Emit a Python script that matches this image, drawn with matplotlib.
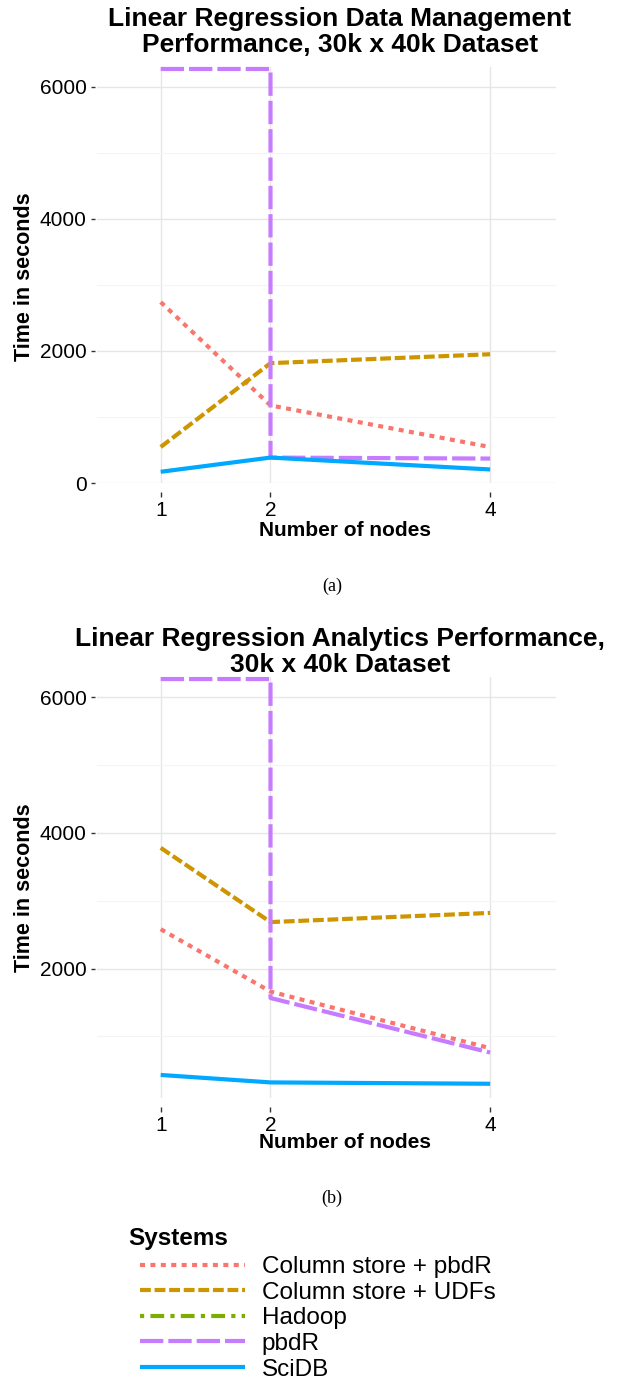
import numpy as np
import matplotlib
matplotlib.use("Agg")
import matplotlib.pyplot as plt

plt.rcParams['font.family'] = ['Liberation Sans', 'DejaVu Sans']

# Data (time in seconds)
nodes = [1, 2, 4]
pbdr_nodes = [1, 2, 2, 4]          # pbdR line drops vertically at 2 nodes

mgmt_colstore_pbdr = [2740, 1175, 545]
mgmt_colstore_udf = [545, 1815, 1950]
mgmt_pbdr = [6270, 6270, 385, 370]
mgmt_scidb = [170, 385, 205]

anl_colstore_pbdr = [2580, 1660, 825]
anl_colstore_udf = [3780, 2685, 2820]
anl_pbdr = [6270, 6270, 1565, 760]
anl_scidb = [430, 320, 300]

systems = ["Column store + pbdR", "Column store + UDFs", "Hadoop", "pbdR", "SciDB"]
colors = ["#F8766D", "#CD9600", "#7CAE00", "#C77CFF", "#00A9FF"]
dashes = [(1.2, 1.3), (2.6, 0.9), (1.0, 1.5, 3.3, 1.5), (5.6, 1.2), None]

W, H = 619, 1382
fig = plt.figure(figsize=(W / 100, H / 100), dpi=100)


def px_box(left, top, right, bottom):
    return [left / W, 1 - bottom / H, (right - left) / W, (bottom - top) / H]


def draw_panel(ax, series, ylim):
    handles = []
    for i, (xs, ys) in enumerate(series):
        kw = dict(color=colors[i], lw=3.0, clip_on=False, solid_capstyle='butt',
                  dash_capstyle='butt', label=systems[i])
        if dashes[i] is not None:
            kw['dashes'] = dashes[i]
        h, = ax.plot(xs, ys, **kw)
        handles.append(h)
    ax.set_xlim(0.42, 4.6)
    ax.set_xticks(nodes)
    ax.set_xticklabels([str(n) for n in nodes])
    ax.set_yticks([0, 2000, 4000, 6000])
    ax.set_yticks([1000, 3000, 5000], minor=True)
    ax.set_ylim(*ylim)
    ax.grid(True, which='major', color='#E6E6E6', lw=1.0)
    ax.grid(True, which='minor', axis='y', color='#F4F4F4', lw=0.8)
    ax.set_axisbelow(True)
    ax.spines['bottom'].set_position(('outward', 6.5))
    ax.spines['left'].set_position(('outward', 1.5))
    for s in ax.spines.values():
        s.set_visible(False)
    ax.tick_params(axis='x', which='major', length=3.8, width=1.0, color='#333333',
                   pad=2.5, labelsize=15, labelcolor='black')
    ax.tick_params(axis='y', which='major', length=3.0, width=1.0, color='#333333',
                   pad=3, labelsize=15, labelcolor='black')
    ax.tick_params(axis='y', which='minor', length=0)
    return handles


ax1 = fig.add_axes(px_box(97, 67, 556, 483))
h1 = draw_panel(ax1, [(nodes, mgmt_colstore_pbdr), (nodes, mgmt_colstore_udf), ([], []),
                      (pbdr_nodes, mgmt_pbdr), (nodes, mgmt_scidb)], (0, 6300))

ax2 = fig.add_axes(px_box(97, 677, 556, 1098))
draw_panel(ax2, [(nodes, anl_colstore_pbdr), (nodes, anl_colstore_udf), ([], []),
                 (pbdr_nodes, anl_pbdr), (nodes, anl_scidb)], (90, 6300))

# titles, axis labels and captions
fig.text(340 / W, 1 - 32 / H, "Linear Regression Data Management\nPerformance, 30k x 40k Dataset",
         ha='center', va='center', fontsize=19, fontweight='bold', linespacing=1.15)
fig.text(340 / W, 1 - 652 / H, "Linear Regression Analytics Performance,\n30k x 40k Dataset",
         ha='center', va='center', fontsize=19, fontweight='bold', linespacing=1.12)

for yc in [530, 1142]:
    fig.text(345 / W, 1 - yc / H, "Number of nodes", ha='center', va='center',
             fontsize=15, fontweight='bold')
for yc in [277, 888]:
    fig.text(25 / W, 1 - yc / H, "Time in seconds", ha='center', va='center',
             rotation=90, fontsize=15.5, fontweight='bold')

fig.text(332 / W, 1 - 586 / H, "(a)", ha='center', va='center', fontsize=13,
         family='Liberation Serif')
fig.text(332 / W, 1 - 1198 / H, "(b)", ha='center', va='center', fontsize=13,
         family='Liberation Serif')

# legend
fig.text(128 / W, 1 - 1238 / H, "Systems", ha='left', va='center', fontsize=17.5,
         fontweight='bold')
fig.legend(h1, systems, loc='upper left', bbox_to_anchor=(140 / W, 1 - 1256 / H),
           frameon=False, fontsize=17.5, handlelength=4.3, handletextpad=0.7,
           labelspacing=0.15, borderpad=0, borderaxespad=0)

fig.savefig("out.png", dpi=100)
